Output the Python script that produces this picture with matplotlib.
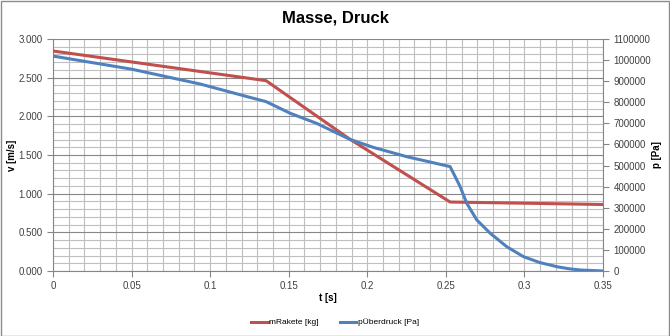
import numpy as np
import matplotlib
matplotlib.use("Agg")
import matplotlib.pyplot as plt
from matplotlib.ticker import MultipleLocator, FormatStrFormatter, FuncFormatter
from matplotlib.patches import Rectangle

plt.rcParams.update({
    "font.family": ["Liberation Sans", "DejaVu Sans"],
    "font.size": 7,
})

# mRakete [kg] (left axis)
t_mass = [0.0, 0.1356, 0.189, 0.2527, 0.35]
m_rakete = [2.845, 2.461, 1.703, 0.892, 0.860]

# pÜberdruck [Pa] (right axis)
t_p = [0.0, 0.05, 0.094, 0.1254, 0.1356, 0.1509, 0.1678, 0.189, 0.2039, 0.2251,
       0.2527, 0.2591, 0.2633, 0.2697, 0.2782, 0.2888, 0.2994, 0.31, 0.3164,
       0.3206, 0.328, 0.3355, 0.35]
p_ueber = [1019000, 957000, 886000, 823000, 803000, 748000, 700000, 624000, 586000, 542000,
           495000, 400000, 321000, 242000, 179000, 115000, 68000, 39500, 28400,
           20400, 11000, 4700, 0]

RED = "#C0504D"
BLUE = "#4F81BD"

fig = plt.figure(figsize=(6.7, 3.36), dpi=100)
fig.patches.append(Rectangle((0.001, 0.001), 0.998, 0.997, transform=fig.transFigure,
                             fill=False, edgecolor="#8c8c8c", linewidth=1.0))

ax = fig.add_axes([53 / 670, 65 / 336, 550 / 670, 232 / 336])
ax2 = ax.twinx()

ax.plot(t_mass, m_rakete, color=RED, lw=2.2, label="mRakete [kg]", zorder=3)
ax2.plot(t_p, p_ueber, color=BLUE, lw=2.2, label="pÜberdruck [Pa]", zorder=3)

ax.set_xlim(0, 0.35)
ax.set_ylim(0, 3.0)
ax2.set_ylim(0, 1100000)

# grid: vertical every 0.01, horizontal minor 0.1 / major 0.5
ax.xaxis.set_major_locator(MultipleLocator(0.05))
ax.xaxis.set_minor_locator(MultipleLocator(0.01))
ax.yaxis.set_major_locator(MultipleLocator(0.5))
ax.yaxis.set_minor_locator(MultipleLocator(0.1))
ax.grid(which="minor", axis="both", color="#bfbfbf", lw=0.8)
ax.grid(which="major", axis="x", color="#bfbfbf", lw=0.8)
ax.grid(which="major", axis="y", color="#868686", lw=0.8)
ax.set_axisbelow(True)

ax.yaxis.set_major_formatter(FormatStrFormatter("%.3f"))
ax.xaxis.set_major_formatter(FuncFormatter(lambda v, _: f"{v:g}"))
ax2.yaxis.set_major_locator(MultipleLocator(100000))
ax2.yaxis.set_major_formatter(FuncFormatter(lambda v, _: f"{int(round(v))}"))

for a in (ax, ax2):
    for s in a.spines.values():
        s.set_visible(False)
ax.spines["left"].set_visible(True)
ax.spines["bottom"].set_visible(True)
ax2.spines["right"].set_visible(True)
for s in (ax.spines["left"], ax.spines["bottom"], ax2.spines["right"]):
    s.set_color("#868686")
    s.set_linewidth(0.8)

ax.tick_params(which="major", length=4, color="#868686", labelsize=7, labelcolor="#404040")
ax.tick_params(which="minor", length=0)
ax2.tick_params(which="major", length=4, color="#868686", labelsize=7, labelcolor="#404040")

ax.set_xlabel("t [s]", fontsize=7, fontweight="bold")
ax.xaxis.set_label_coords(0.5, -0.095)
ax.set_ylabel("v [m/s]", fontsize=7, fontweight="bold")
ax.yaxis.set_label_coords(-0.065, 0.5)
ax2.set_ylabel("p [Pa]", fontsize=7, fontweight="bold")
ax2.yaxis.set_label_coords(1.09, 0.5)

fig.text(0.5, 0.945, "Masse, Druck", ha="center", va="center",
         fontsize=12, fontweight="bold")

h1, l1 = ax.get_legend_handles_labels()
h2, l2 = ax2.get_legend_handles_labels()
fig.legend(h1 + h2, l1 + l2, loc="center", bbox_to_anchor=(0.5, 0.04), ncol=2,
           frameon=False, fontsize=6, handlelength=2.0, handletextpad=0.2,
           columnspacing=2.5)

fig.savefig("out.png", dpi=100)
